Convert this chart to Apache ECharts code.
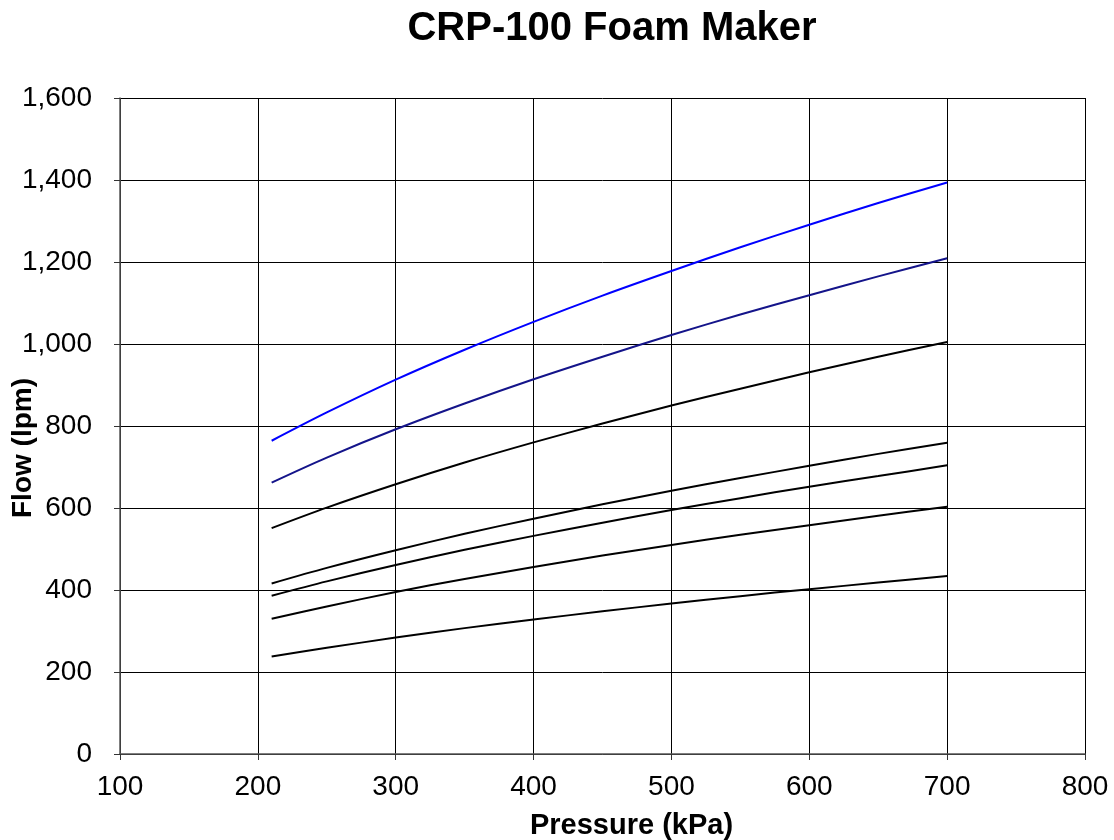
<!DOCTYPE html>
<html>
<head>
<meta charset="utf-8">
<script src="https://cdn.jsdelivr.net/npm/echarts@6/dist/echarts.min.js"></script>
<style>
	html, body { margin: 0; padding: 0; background: #fff; }
	#chart_box { width: 1114px; height: 840px; }
</style>
</head>
<body>
<div id="chart_box"></div>
<script>
// pressure points (kPa)
var pressure = [210, 250, 300, 350, 400, 450, 500, 550, 600, 650, 700];

// flow (lpm), one array per curve, top to bottom
var flow_1 = [764, 833, 913, 986, 1054, 1118, 1178, 1236, 1291, 1344, 1394];
var flow_2 = [662, 723, 792, 855, 914, 969, 1022, 1072, 1119, 1165, 1209];
var flow_3 = [551, 601, 658, 711, 760, 806, 850, 891, 931, 969, 1005];
var flow_4 = [416, 454, 497, 537, 574, 609, 642, 673, 703, 732, 759];
var flow_5 = [386, 421, 461, 498, 532, 564, 595, 624, 652, 678, 704];
var flow_6 = [330, 360, 395, 427, 456, 484, 510, 535, 558, 581, 603];
var flow_7 = [238, 259, 284, 307, 328, 348, 367, 385, 402, 418, 434];

var curves = [flow_1, flow_2, flow_3, flow_4, flow_5, flow_6, flow_7];
var colors = ['#0000ff', '#14148a', '#000000', '#000000', '#000000', '#000000', '#000000'];

var myChart = echarts.init(document.getElementById('chart_box'));

var series = curves.map(function(vals, i) {
	return {
		type: 'line',
		smooth: 0.3,
		symbol: 'none',
		lineStyle: { color: colors[i], width: 2 },
		data: pressure.map(function(p, j) { return [p, vals[j]]; })
	};
});

var fontFamily = 'Liberation Sans, Arial, sans-serif';

var option = {
	animation: false,
	backgroundColor: '#fff',
	title: {
		text: 'CRP-100 Foam Maker',
		left: 607,
		textAlign: 'center',
		top: 4,
		textStyle: { fontFamily: fontFamily, fontSize: 40, fontWeight: 'bold', color: '#000' }
	},
	grid: { left: 120, right: 29, top: 98, bottom: 86, outerBoundsMode: 'none', containLabel: false },
	xAxis: {
		type: 'value',
		min: 100,
		max: 800,
		interval: 100,
		name: 'Pressure (kPa)',
		nameLocation: 'middle',
		nameGap: 57,
		nameMoveOverlap: false,
		nameTextStyle: { fontFamily: fontFamily, fontSize: 29, fontWeight: 'bold', color: '#000', padding: [0, 0, 0, 58] },
		axisLine: { show: true, lineStyle: { color: '#555', width: 1.5 } },
		axisTick: { show: true, length: 6, lineStyle: { color: '#333' } },
		axisLabel: { margin: 19, fontFamily: fontFamily, fontSize: 28, color: '#000' },
		splitLine: { show: true, lineStyle: { color: '#000', width: 1 } }
	},
	yAxis: {
		type: 'value',
		min: 0,
		max: 1600,
		interval: 200,
		name: 'Flow (lpm)',
		nameLocation: 'middle',
		nameGap: 83,
		nameMoveOverlap: false,
		nameTextStyle: { fontFamily: fontFamily, fontSize: 28, fontWeight: 'bold', color: '#000', padding: [0, 44, 0, 0] },
		axisLine: { show: true, lineStyle: { color: '#555', width: 1.5 } },
		axisTick: { show: true, length: 6, lineStyle: { color: '#333' } },
		axisLabel: {
			margin: 28,
			fontFamily: fontFamily,
			fontSize: 28,
			color: '#000',
			formatter: function(v) { return v.toLocaleString('en-US'); }
		},
		splitLine: { show: true, lineStyle: { color: '#000', width: 1 } }
	},
	series: series
};
myChart.setOption(option);
</script>
</body>
</html>
